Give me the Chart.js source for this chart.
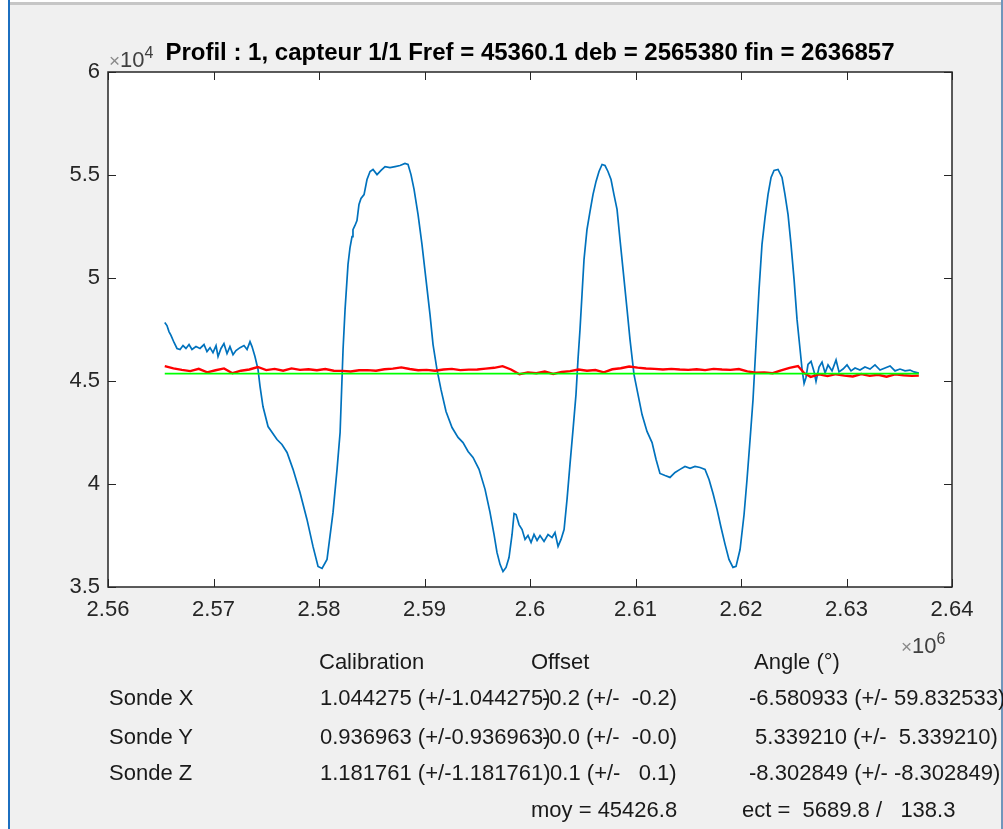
<!DOCTYPE html>
<html>
<head>
<meta charset="utf-8">
<script src="https://cdn.jsdelivr.net/npm/chart.js@4"></script>
<style>
  html, body { margin: 0; padding: 0; }
  body { width: 1003px; height: 829px; position: relative; overflow: hidden; background: #fff;
         font-family: "Liberation Sans", Arial, sans-serif; }
  .panel { position: absolute; left: 10px; top: 5px; width: 991px; height: 824px; background: #f0f0f0; }
  .edge-top { position: absolute; left: 10px; top: 2px; width: 991px; height: 3px; background: #c6c6c6; }
  .edge-left { position: absolute; left: 8px; top: 0; width: 2px; height: 829px; background: #1c6fc0; }
  .edge-right { position: absolute; left: 1001px; top: 0; width: 2px; height: 829px; background: #7096bb; }
  canvas { position: absolute; left: 0; top: 0; }
  .t { position: absolute; white-space: pre; font-size: 22px; line-height: 22px; color: #1a1a1a; }
  .title { position: absolute; left: 0; width: 1060px; text-align: center; top: 40px; white-space: pre;
           font-size: 24px; line-height: 24px; font-weight: bold; color: #000; }
  .exp { position: absolute; white-space: pre; color: #404040; font-size: 22px; line-height: 22px; }
  .exp .x { font-size: 19px; color: #8a8a8a; }
  .exp sup { font-size: 16px; vertical-align: 9px; line-height: 0; }
</style>
</head>
<body>
<div class="panel"></div>
<div class="edge-top"></div>
<div class="edge-left"></div>
<div class="edge-right"></div>
<canvas id="profil" width="1003" height="829"></canvas>

<div class="title">Profil : 1, capteur 1/1 Fref = 45360.1 deb = 2565380 fin = 2636857</div>
<div class="exp" style="left:109px; top:49px;"><span class="x">×</span>10<sup>4</sup></div>
<div class="exp" style="left:901px; top:635px;"><span class="x">×</span>10<sup>6</sup></div>

<div class="t" style="left:319px; top:651px;">Calibration</div>
<div class="t" style="left:531px; top:651px;">Offset</div>
<div class="t" style="left:754px; top:651px;">Angle (°)</div>

<div class="t" style="left:109px; top:687px;">Sonde X</div>
<div class="t" style="left:320px; top:687px;">1.044275 (+/-1.044275)</div>
<div class="t" style="left:542px; top:687px;">-0.2 (+/-  -0.2)</div>
<div class="t" style="left:749px; top:687px;">-6.580933 (+/- 59.832533)</div>

<div class="t" style="left:109px; top:726px;">Sonde Y</div>
<div class="t" style="left:320px; top:726px;">0.936963 (+/-0.936963)</div>
<div class="t" style="left:542px; top:726px;">-0.0 (+/-  -0.0)</div>
<div class="t" style="left:749px; top:726px;"> 5.339210 (+/-  5.339210)</div>

<div class="t" style="left:109px; top:762px;">Sonde Z</div>
<div class="t" style="left:320px; top:762px;">1.181761 (+/-1.181761)</div>
<div class="t" style="left:544px; top:762px;"> 0.1 (+/-   0.1)</div>
<div class="t" style="left:749px; top:762px;">-8.302849 (+/- -8.302849)</div>

<div class="t" style="left:531px; top:799px;">moy = 45426.8</div>
<div class="t" style="left:742px; top:799px;">ect =  5689.8 /   138.3</div>

<script>
// axis ranges (x in samples, y in raw units)
const xMin = 2560000, xMax = 2640000, xStep = 10000;
const yMin = 35000, yMax = 60000, yStep = 5000;

// blue trace [x, y]
const blueXY = [
  [2565380, 47840], [2565590, 47690], [2565780, 47400], [2565970, 47210], [2566260, 46870],
  [2566540, 46580], [2566830, 46530], [2567110, 46720], [2567390, 46580], [2567680, 46770],
  [2567960, 46530], [2568340, 46670], [2568720, 46580], [2569100, 46770], [2569380, 46430],
  [2569670, 46620], [2569950, 46380], [2570240, 46720], [2570430, 46190], [2570710, 46580],
  [2570990, 46820], [2571280, 46330], [2571560, 46670], [2571850, 46280], [2572130, 46480],
  [2572510, 46620], [2572890, 46720], [2573180, 46530], [2573460, 46910], [2573650, 46670],
  [2573930, 46190], [2574220, 45560], [2574410, 44740], [2574690, 43760], [2575170, 42790],
  [2576020, 42160], [2576490, 41920], [2576970, 41530], [2577540, 40710], [2578200, 39590],
  [2578860, 38280], [2579430, 36970], [2579910, 36000], [2580290, 35900], [2580760, 36340],
  [2581330, 38620], [2581710, 40710], [2582000, 42500], [2582280, 46530], [2582470, 48470],
  [2582750, 50660], [2582940, 51480], [2583130, 52010], [2583220, 52350], [2583410, 52550],
  [2583600, 52790], [2583790, 53570], [2583980, 53860], [2584270, 54050], [2584550, 54780],
  [2584840, 55170], [2585120, 55270], [2585500, 55020], [2585880, 55220], [2586260, 55410],
  [2586730, 55360], [2587210, 55410], [2587680, 55460], [2588150, 55560], [2588440, 55510],
  [2588720, 55020], [2589010, 54300], [2589390, 53080], [2589760, 51630], [2590140, 49930],
  [2590520, 48230], [2590810, 46770], [2591180, 45560], [2591560, 44590], [2592040, 43520],
  [2592610, 42740], [2593180, 42260], [2593650, 42010], [2594130, 41580], [2594600, 41290],
  [2595170, 40710], [2595740, 39740], [2596210, 38620], [2596590, 37550], [2596870, 36680],
  [2597160, 36100], [2597440, 35750], [2597730, 35950], [2598010, 36430], [2598300, 37550],
  [2598490, 38570], [2598680, 38520], [2598960, 38030], [2599250, 37790], [2599530, 37310],
  [2599810, 37500], [2600100, 37160], [2600380, 37550], [2600670, 37260], [2600950, 37500],
  [2601330, 37210], [2601710, 37550], [2602090, 37400], [2602370, 37640], [2602660, 36970],
  [2602940, 37310], [2603230, 37790], [2603510, 39250], [2603790, 40950], [2604080, 42650],
  [2604360, 44350], [2604550, 46050], [2604740, 47500], [2604930, 49200], [2605120, 50900],
  [2605400, 52350], [2605690, 53230], [2605970, 54050], [2606260, 54690], [2606540, 55170],
  [2606830, 55510], [2607110, 55460], [2607390, 55170], [2607680, 54780], [2607960, 54050],
  [2608250, 53330], [2608530, 51870], [2608820, 50410], [2609200, 48470], [2609480, 47010],
  [2609860, 45310], [2610240, 44340], [2610620, 43370], [2611090, 42550], [2611570, 42010],
  [2611950, 41190], [2612320, 40510], [2612800, 40410], [2613270, 40320], [2613750, 40560],
  [2614220, 40710], [2614690, 40850], [2615170, 40760], [2615640, 40850], [2616120, 40800],
  [2616590, 40710], [2616970, 40220], [2617350, 39540], [2617730, 38770], [2618110, 37890],
  [2618490, 37070], [2618860, 36340], [2619240, 35950], [2619530, 36000], [2619910, 36820],
  [2620290, 38520], [2620570, 40220], [2620860, 42160], [2621140, 44100], [2621420, 46770],
  [2621710, 49440], [2621990, 51630], [2622280, 52940], [2622560, 54050], [2622850, 54880],
  [2623130, 55220], [2623510, 55270], [2623890, 54880], [2624170, 54050], [2624460, 53080],
  [2624740, 51630], [2625030, 49930], [2625310, 47990], [2625600, 46530], [2625790, 45560],
  [2625980, 44880], [2626160, 45170], [2626350, 45800], [2626640, 45950], [2626920, 45460],
  [2627110, 44980], [2627400, 45680], [2627680, 45920], [2627970, 45390], [2628250, 45780],
  [2628630, 45490], [2629010, 46020], [2629290, 45440], [2629670, 45580], [2630050, 45780],
  [2630430, 45490], [2630810, 45630], [2631280, 45530], [2631750, 45680], [2632230, 45580],
  [2632700, 45780], [2633180, 45530], [2633650, 45630], [2634130, 45730], [2634600, 45490],
  [2635070, 45580], [2635550, 45490], [2636020, 45530], [2636400, 45440], [2636857, 45390]
];

// red trace [x, y]
const redXY = [
  [2565380, 45720], [2566200, 45610], [2567000, 45540], [2567800, 45480], [2568600, 45590],
  [2569400, 45420], [2570200, 45520], [2571000, 45610], [2571800, 45380], [2572600, 45500],
  [2573400, 45560], [2574200, 45680], [2575000, 45530], [2575800, 45590], [2576600, 45500],
  [2577400, 45610], [2578200, 45540], [2579000, 45570], [2579800, 45520], [2580600, 45580],
  [2581400, 45500], [2582200, 45490], [2583000, 45460], [2583800, 45520], [2584600, 45530],
  [2585400, 45500], [2586200, 45570], [2587000, 45600], [2587800, 45660], [2588600, 45580],
  [2589400, 45520], [2590200, 45540], [2591000, 45500], [2591800, 45560], [2592600, 45590],
  [2593400, 45530], [2594200, 45550], [2595000, 45560], [2595800, 45600], [2596600, 45640],
  [2597400, 45720], [2598200, 45560], [2599000, 45330], [2599800, 45420], [2600600, 45380],
  [2601400, 45460], [2602200, 45340], [2603000, 45440], [2603800, 45480], [2604600, 45560],
  [2605400, 45500], [2606200, 45530], [2607000, 45420], [2607800, 45570], [2608600, 45620],
  [2609400, 45700], [2610200, 45650], [2611000, 45610], [2611800, 45590], [2612600, 45560],
  [2613400, 45590], [2614200, 45560], [2615000, 45540], [2615800, 45570], [2616600, 45530],
  [2617400, 45590], [2618200, 45560], [2619000, 45540], [2619800, 45580], [2620600, 45470],
  [2621400, 45400], [2622200, 45420], [2623000, 45380], [2623800, 45520], [2624600, 45640],
  [2625400, 45730], [2626000, 45380], [2626600, 45200], [2627400, 45320], [2628200, 45240],
  [2629000, 45330], [2629800, 45260], [2630600, 45220], [2631400, 45340], [2632200, 45250],
  [2633000, 45300], [2633800, 45210], [2634600, 45320], [2635400, 45280], [2636200, 45250],
  [2636857, 45260]
];

// green reference line (Fref)
const greenXY = [[2565380, 45360.1], [2636857, 45360.1]];

const axisColor = "#262626";
const fontFamily = '"Liberation Sans", Arial, sans-serif';

function toPoints(arr) {
  return arr.map(([x, y]) => ({ x, y }));
}

// white plot area, then MATLAB-style box with inward ticks on all four sides
const boxPlugin = {
  id: "matlabBox",
  beforeDraw(chart) {
    const a = chart.chartArea;
    const c = chart.ctx;
    c.save();
    c.fillStyle = "#ffffff";
    c.fillRect(a.left, a.top, a.right - a.left, a.bottom - a.top);
    c.restore();
  },
  afterDatasetsDraw(chart) {
    const a = chart.chartArea;
    const c = chart.ctx;
    const sx = chart.scales.x, sy = chart.scales.y;
    const tl = 8;
    c.save();
    c.strokeStyle = axisColor;
    c.lineWidth = 1.5;
    c.strokeRect(a.left, a.top, a.right - a.left, a.bottom - a.top);
    c.lineWidth = 1;
    c.beginPath();
    sx.ticks.forEach((t) => {
      const px = Math.round(sx.getPixelForValue(t.value)) + 0.5;
      c.moveTo(px, a.bottom); c.lineTo(px, a.bottom - tl);
      c.moveTo(px, a.top); c.lineTo(px, a.top + tl);
    });
    sy.ticks.forEach((t) => {
      const py = Math.round(sy.getPixelForValue(t.value)) + 0.5;
      c.moveTo(a.left, py); c.lineTo(a.left + tl, py);
      c.moveTo(a.right, py); c.lineTo(a.right - tl, py);
    });
    c.stroke();
    c.restore();
  }
};

const ctx = document.getElementById("profil");

new Chart(ctx, {
  type: "line",
  data: {
    datasets: [
      { label: "Fref", data: toPoints(greenXY), borderColor: "#00ff00", borderWidth: 1.6,
        pointRadius: 0, tension: 0 },
      { label: "rouge", data: toPoints(redXY), borderColor: "#ff0000", borderWidth: 2.4,
        pointRadius: 0, tension: 0 },
      { label: "bleu", data: toPoints(blueXY), borderColor: "#0072bd", borderWidth: 1.7,
        pointRadius: 0, tension: 0 }
    ]
  },
  options: {
    responsive: false,
    animation: false,
    devicePixelRatio: 1,
    layout: { padding: { left: 0, top: 72, right: 51, bottom: 0 } },
    plugins: {
      legend: { display: false },
      title: { display: false },
      tooltip: { enabled: false }
    },
    scales: {
      x: {
        type: "linear",
        min: xMin,
        max: xMax,
        border: { display: false },
        grid: { display: false, drawTicks: false },
        ticks: {
          stepSize: xStep,
          autoSkip: false,
          maxRotation: 0,
          padding: 10,
          color: axisColor,
          font: { family: fontFamily, size: 22 },
          callback: (v) => String(parseFloat((v / 1e6).toFixed(4)))
        },
        afterFit: (s) => { s.height = 829 - 587; }
      },
      y: {
        type: "linear",
        min: yMin,
        max: yMax,
        border: { display: false },
        grid: { display: false, drawTicks: false },
        ticks: {
          stepSize: yStep,
          autoSkip: false,
          padding: 8,
          color: axisColor,
          font: { family: fontFamily, size: 22 },
          callback: (v) => String(parseFloat((v / 1e4).toFixed(4)))
        },
        afterFit: (s) => { s.width = 108; }
      }
    }
  },
  plugins: [boxPlugin]
});
</script>
</body>
</html>
